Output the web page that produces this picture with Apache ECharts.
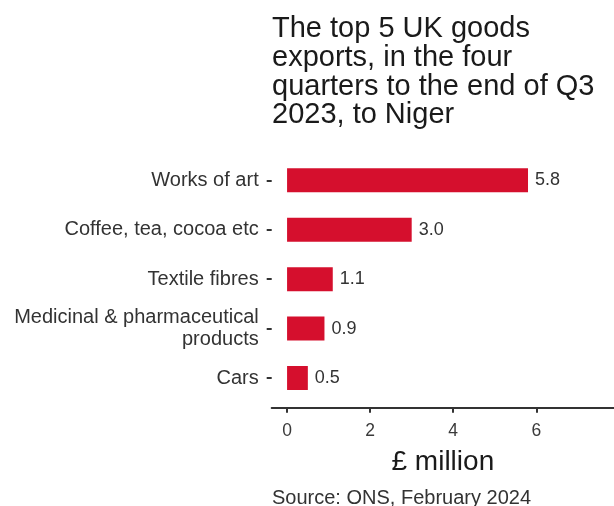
<!DOCTYPE html>
<html>
<head>
<meta charset="utf-8">
<script src="https://cdn.jsdelivr.net/npm/echarts@6/dist/echarts.min.js"></script>
<style>html,body{margin:0;padding:0;background:#fff;}#c{width:614px;height:506px;}</style>
</head>
<body>
<div id="c"></div>
<script>
var categories = ['Works of art', 'Coffee, tea, cocoa etc', 'Textile fibres', 'Medicinal & pharmaceutical\nproducts', 'Cars'];
var values = [5.8, 3.0, 1.1, 0.9, 0.5];
var xTicks = [0, 2, 4, 6];
var titleText = 'The top 5 UK goods\nexports, in the four\nquarters to the end of Q3\n2023, to Niger';
var sourceText = 'Source: ONS, February 2024';
var font = 'Liberation Sans, Arial, sans-serif';

var chart = echarts.init(document.getElementById('c'));
chart.setOption({
  animation: false,
  backgroundColor: '#fff',
  title: [{
    text: titleText,
    left: 267,
    top: 10,
    textStyle: {fontFamily: font, fontSize: 29, fontWeight: 'normal', color: '#1a1a1a', lineHeight: 28.7}
  }, {
    text: sourceText,
    left: 267,
    top: 482,
    textStyle: {fontFamily: font, fontSize: 20, fontWeight: 'normal', color: '#333', lineHeight: 22}
  }],
  grid: {left: 271.7, right: 0, top: 155.6, bottom: 103.3, containLabel: false},
  xAxis: {
    type: 'value',
    min: -0.37,
    max: 7.87,
    offset: 5,
    axisLine: {show: true, lineStyle: {color: '#333', width: 2}},
    axisTick: {show: true, length: 5, customValues: xTicks, lineStyle: {color: '#333', width: 2}},
    axisLabel: {customValues: xTicks, fontFamily: font, fontSize: 17.5, color: '#3a3a3a', margin: 14},
    splitLine: {show: false},
    name: '£ million',
    nameLocation: 'middle',
    nameGap: 41,
    nameTextStyle: {fontFamily: font, fontSize: 28, color: '#1a1a1a'}
  },
  yAxis: {
    type: 'category',
    data: categories,
    inverse: true,
    axisLine: {show: false, onZero: false},
    axisTick: {show: true, alignWithLabel: true, length: 5, lineStyle: {color: '#333', width: 2}},
    axisLabel: {fontFamily: font, fontSize: 20, color: '#333', margin: 13, lineHeight: 22, align: 'right'},
    splitLine: {show: false}
  },
  series: [{
    type: 'bar',
    data: values,
    barWidth: 24,
    itemStyle: {color: '#d50f2d'},
    label: {
      show: true,
      position: 'right',
      distance: 7,
      fontFamily: font,
      fontSize: 18,
      color: '#333',
      formatter: function (p) { return p.value.toFixed(1); }
    }
  }]
});
</script>
</body>
</html>
